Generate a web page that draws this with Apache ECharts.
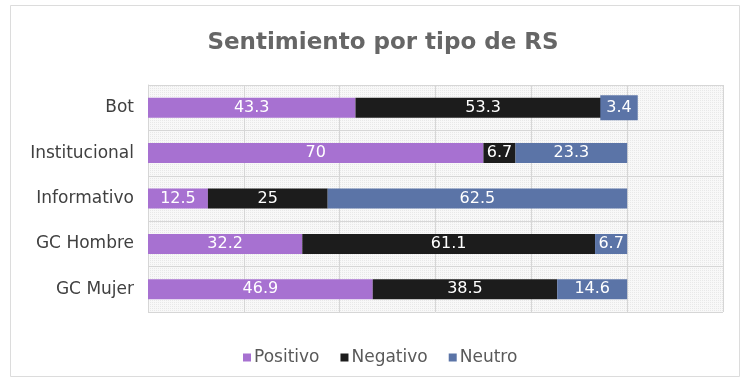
<!DOCTYPE html>
<html>
<head>
<meta charset="utf-8">
<title>Sentimiento por tipo de RS</title>
<script src="https://cdn.jsdelivr.net/npm/echarts@6/dist/echarts.min.js"></script>
<style>
  html, body { margin: 0; padding: 0; background: #ffffff; }
  #chart { width: 744px; height: 379px; }
</style>
</head>
<body>
<div id="chart"></div>
<script>
// Account types, top to bottom
const categories = ['Bot', 'Institucional', 'Informativo', 'GC Hombre', 'GC Mujer'];
// Sentiment share (%) per account type
const positivo = [43.3, 70, 12.5, 32.2, 46.9];
const negativo = [53.3, 6.7, 25, 61.1, 38.5];
const neutro   = [3.4, 23.3, 62.5, 6.7, 14.6];
const seriesNames = ['Positivo', 'Negativo', 'Neutro'];
const colors = ['#a771d1', '#1c1c1c', '#5b74a7'];

const FONT = 'DejaVu Sans';

// fine dotted fill for the plot area
const tile = document.createElement('canvas');
tile.width = 4; tile.height = 4;
const tctx = tile.getContext('2d');
tctx.fillStyle = '#f8f8f8';
tctx.fillRect(0, 0, 4, 4);
tctx.fillStyle = '#e8e8e8';
tctx.fillRect(0, 0, 1, 1);
tctx.fillRect(2, 2, 1, 1);
tctx.fillRect(2, 0, 1, 1);
tctx.fillRect(0, 2, 1, 1);

function makeSeries(name, values, color, idx) {
  return {
    name: name,
    type: 'bar',
    stack: 'total',
    barWidth: 20,
    itemStyle: { color: color },
    label: {
      show: true,
      position: 'inside',
      color: '#ffffff',
      fontFamily: FONT,
      fontSize: 16
    },
    data: values.map(function (v, i) {
      // the narrow Bot/Neutro segment carries its label on a filled tag
      if (idx === 2 && v < 5 && i === 0) {
        return {
          value: v,
          label: { backgroundColor: color, padding: [5, 6, 4, 6] }
        };
      }
      return v;
    })
  };
}

const chart = echarts.init(document.getElementById('chart'), null, { renderer: 'canvas' });
chart.setOption({
  backgroundColor: '#ffffff',
  animation: false,
  title: {
    text: 'Sentimiento por tipo de RS',
    left: 378,
    textAlign: 'center',
    top: 27,
    textStyle: {
      fontFamily: FONT,
      fontWeight: 'bold',
      fontSize: 23,
      color: '#666666'
    }
  },
  graphic: [{
    type: 'rect',
    shape: { x: 10.5, y: 5.5, width: 729, height: 371 },
    style: { fill: 'none', stroke: '#dcdcdc', lineWidth: 1 },
    silent: true,
    z: -1
  }],
  legend: {
    data: seriesNames,
    left: 238,
    top: 344,
    icon: 'rect',
    itemWidth: 8,
    itemHeight: 8,
    itemGap: 21,
    textStyle: { fontFamily: FONT, fontSize: 17, color: '#595959', padding: [0, 0, 0, -2] }
  },
  grid: {
    left: 148,
    right: 21,
    top: 85,
    bottom: 67,
    show: true,
    borderWidth: 0,
    backgroundColor: { image: tile, repeat: 'repeat' }
  },
  xAxis: {
    type: 'value',
    min: 0,
    max: 120,
    interval: 20,
    axisLabel: { show: false },
    axisLine: { show: false },
    axisTick: { show: false },
    splitLine: { show: true, lineStyle: { color: '#d6d6d6', width: 1 } }
  },
  yAxis: {
    type: 'category',
    data: categories,
    inverse: true,
    axisLine: { show: true, lineStyle: { color: '#d6d6d6' } },
    axisTick: { show: false },
    splitLine: { show: true, lineStyle: { color: '#d6d6d6', width: 1 } },
    axisLabel: {
      margin: 14,
      fontFamily: FONT,
      fontSize: 17,
      color: '#404040'
    }
  },
  series: [
    makeSeries(seriesNames[0], positivo, colors[0], 0),
    makeSeries(seriesNames[1], negativo, colors[1], 1),
    makeSeries(seriesNames[2], neutro, colors[2], 2)
  ]
});
</script>
</body>
</html>
